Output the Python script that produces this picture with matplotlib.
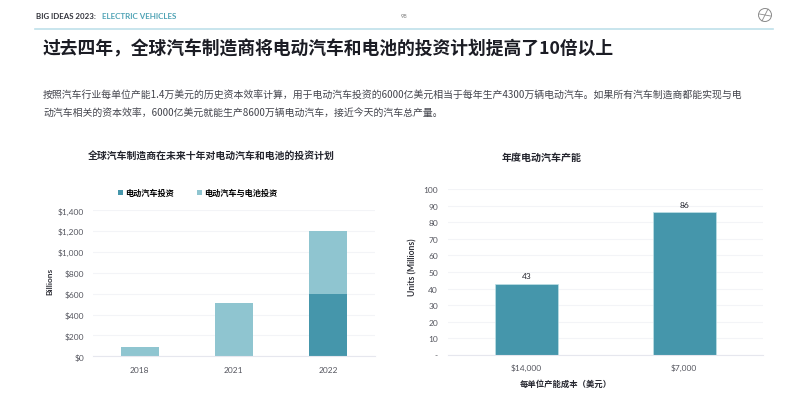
import matplotlib
matplotlib.use("Agg")
import matplotlib.pyplot as plt
from matplotlib.patches import Ellipse
from matplotlib.lines import Line2D

plt.rcParams['font.family'] = ['Noto Sans CJK SC', 'DejaVu Sans']

W, H = 791, 406

# Data
years = ['2018', '2021', '2022']
ev_invest = [0, 0, 595]
ev_battery_invest = [90, 515, 605]
left_ticks = [0, 200, 400, 600, 800, 1000, 1200, 1400]
left_ticklabels = ['$0', '$200', '$400', '$600', '$800', '$1,000', '$1,200', '$1,400']

cost_labels = ['$14,000', '$7,000']
capacity = [43, 86]
right_ticks = [0, 10, 20, 30, 40, 50, 60, 70, 80, 90, 100]
right_ticklabels = ['-', '10', '20', '30', '40', '50', '60', '70', '80', '90', '100']

header_a = 'BIG IDEAS 2023:'
header_b = 'ELECTRIC VEHICLES'
page_no = '98'
main_title = '过去四年，全球汽车制造商将电动汽车和电池的投资计划提高了10倍以上'
body_1 = '按照汽车行业每单位产能1.4万美元的历史资本效率计算，用于电动汽车投资的6000亿美元相当于每年生产4300万辆电动汽车。如果所有汽车制造商都能实现与电'
body_2 = '动汽车相关的资本效率，6000亿美元就能生产8600万辆电动汽车，接近今天的汽车总产量。'
left_title = '全球汽车制造商在未来十年对电动汽车和电池的投资计划'
right_title = '年度电动汽车产能'
legend_labels = ['电动汽车投资', '电动汽车与电池投资']
left_ylabel = 'Billions'
right_ylabel = 'Units (Millions)'
right_xlabel = '每单位产能成本（美元）'

DARK = '#4596AB'
LIGHT = '#8FC5D0'
GRID = '#F3F4F7'
TXT = '#55565F'
INK = '#24252E'

fig = plt.figure(figsize=(W / 100, H / 100), dpi=100, facecolor='white')


def axes_px(x0, x1, ytop, ybot):
    return fig.add_axes([x0 / W, 1 - ybot / H, (x1 - x0) / W, (ybot - ytop) / H])


def put(x, y, s, **kw):
    kw.setdefault('va', 'center')
    return fig.text(x / W, 1 - y / H, s, **kw)


def style(ax, ticks, labels):
    ax.set_yticks(ticks)
    ax.set_yticklabels(labels, fontsize=6.0, color=TXT, family=['Lato', 'DejaVu Sans'])
    ax.grid(axis='y', color=GRID, linewidth=0.8)
    ax.set_axisbelow(True)
    for side in ('top', 'right', 'left'):
        ax.spines[side].set_visible(False)
    ax.spines['bottom'].set_color('#E6E7EE')
    ax.spines['bottom'].set_linewidth(0.8)
    ax.tick_params(axis='both', length=0)


# Left chart
axl = axes_px(92.7, 375, 211.3, 357.3)
xl = list(range(len(years)))
axl.bar(xl, ev_invest, width=0.4, color=DARK, linewidth=0, label=legend_labels[0])
axl.bar(xl, ev_battery_invest, width=0.4, bottom=ev_invest, color=LIGHT, linewidth=0, label=legend_labels[1])
axl.set_xlim(-0.5, 2.5)
axl.set_ylim(0, 1400)
style(axl, left_ticks, left_ticklabels)
axl.set_xticks(xl)
axl.set_xticklabels(years, fontsize=6.0, color=TXT, family=['Lato', 'DejaVu Sans'])
axl.tick_params(axis='x', pad=7)
axl.tick_params(axis='y', pad=6)
axl.legend(loc='lower left', bbox_to_anchor=(118 / W, 1 - 198 / H), bbox_transform=fig.transFigure,
           ncol=2, frameon=False, handlelength=0.6, handleheight=0.6,
           handletextpad=0.25, columnspacing=2.9, borderpad=0, borderaxespad=0,
           prop={'size': 5.9, 'weight': 'bold'})

# Right chart
axr = axes_px(447.7, 763, 190.3, 355.7)
xr = list(range(len(cost_labels)))
bars = axr.bar(xr, capacity, width=0.4, color=DARK, edgecolor='#BFE0E6', linewidth=0.5)
axr.set_xlim(-0.5, 1.5)
axr.set_ylim(0, 100)
style(axr, right_ticks, right_ticklabels)
axr.set_xticks(xr)
axr.set_xticklabels(cost_labels, fontsize=6.0, color=TXT, family=['Lato', 'DejaVu Sans'])
axr.tick_params(axis='x', pad=6)
axr.tick_params(axis='y', pad=7)
axr.bar_label(bars, labels=[str(v) for v in capacity], padding=3, fontsize=6.0, color=INK,
              family=['Lato', 'DejaVu Sans'])

# Page texts
put(36, 16.5, header_a, fontsize=5.7, weight='bold', color='#33343C', family=['Lato', 'DejaVu Sans'])
put(102, 16.5, header_b, fontsize=5.8, weight='bold', color='#4FA3B5', family=['Lato', 'DejaVu Sans'])
put(404, 16, page_no, fontsize=4.2, color='#777777', ha='center', family=['Lato', 'DejaVu Sans'])
fig.add_artist(Line2D([35 / W, 773 / W], [1 - 30 / H] * 2, color='#BFE0EA', linewidth=1.2))
fig.add_artist(Ellipse((765 / W, 1 - 16 / H), 13 / W, 13 / H, fill=False, edgecolor='#8A8A8A', linewidth=0.7))
fig.add_artist(Line2D([762 / W, 768 / W], [1 - 22 / H, 1 - 10 / H], color='#8A8A8A', linewidth=0.6))
fig.add_artist(Line2D([759.5 / W, 770.5 / W], [1 - 15 / H, 1 - 17 / H], color='#8A8A8A', linewidth=0.6))

put(43, 49, main_title, fontsize=12.8, weight='bold', color='#1B1C24')
put(43, 94.5, body_1, fontsize=7.1, color='#44454D')
put(43, 113, body_2, fontsize=7.1, color='#44454D')
put(211.5, 157, left_title, fontsize=7.1, weight='bold', color=INK, ha='center')
put(541.5, 158, right_title, fontsize=7.2, weight='bold', color=INK, ha='center')
put(566, 384, right_xlabel, fontsize=6.0, weight='bold', color=INK, ha='center')
put(50, 281, left_ylabel, fontsize=6, weight='bold', color='#33343C', rotation=90, ha='center', family=['Lato', 'DejaVu Sans'])
put(413, 267, right_ylabel, fontsize=6.2, weight='bold', color='#33343C', rotation=90, ha='center', family=['Lato', 'DejaVu Sans'])

fig.savefig('out.png', dpi=100, facecolor='white')
